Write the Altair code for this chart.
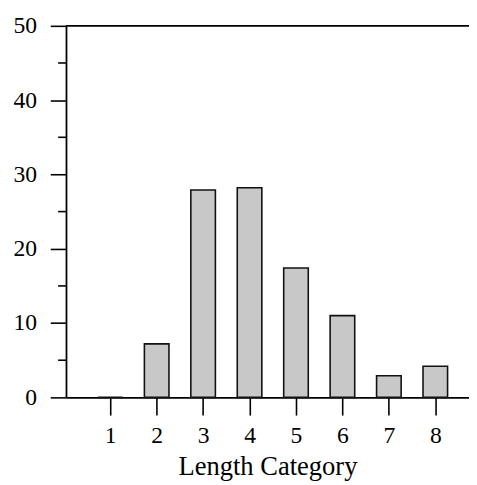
import altair as alt
import pandas as pd

categories = [1, 2, 3, 4, 5, 6, 7, 8]
counts = [0, 7.2, 27.9, 28.2, 17.4, 11.0, 2.9, 4.2]
y_major = [0, 10, 20, 30, 40, 50]
y_minor = [5, 15, 25, 35, 45]

W, H = 410, 378
FONT = "Liberation Serif"

df = pd.DataFrame({"cat": categories, "n": counts})
minor_df = pd.DataFrame({"n": y_minor})
top_df = pd.DataFrame({"n": [50]})

xscale = alt.Scale(domain=[0.153, 8.62], nice=False, zero=False)
yscale = alt.Scale(domain=[0, 50], nice=False)

yaxis = alt.Axis(
    values=y_major, title=None, grid=False,
    tickSize=16, tickWidth=1.6, tickColor="black",
    domainColor="black", domainWidth=1.8,
    labelFont=FONT, labelFontSize=24, labelColor="black", labelPadding=14,
)

bars = alt.Chart(df).mark_bar(
    size=25, fill="#c8c8c8", stroke="#111111", strokeWidth=1.6
).encode(
    x=alt.X("cat:Q", scale=xscale, axis=alt.Axis(
        values=categories, title="Length Category", grid=False,
        tickSize=18, tickWidth=1.6, tickColor="black",
        domainColor="black", domainWidth=1.8,
        labelFont=FONT, labelFontSize=24, labelColor="black", labelPadding=9,
        titleFont=FONT, titleFontSize=27, titleFontWeight="normal", titleColor="black",
        titleBaseline="alphabetic", titleY=78,
    )),
    y=alt.Y("n:Q", scale=yscale, axis=yaxis),
)

minor = alt.Chart(minor_df).mark_rule(color="black", strokeWidth=1.6).encode(
    y=alt.Y("n:Q", scale=yscale, axis=yaxis),
    x=alt.value(-8),
    x2=alt.value(0),
)

top = alt.Chart(top_df).mark_rule(color="black", strokeWidth=1.8).encode(
    y=alt.Y("n:Q", scale=yscale, axis=yaxis),
    x=alt.value(0),
    x2=alt.value(W),
)

chart = alt.layer(bars, minor, top).properties(
    width=W, height=H,
    autosize=alt.AutoSizeParams(type="none"),
    padding={"left": 59, "top": 14, "right": 0, "bottom": 85},
    background="white",
).configure_view(stroke=None)

chart.save("out.html", embed_options={"renderer": "svg", "actions": False})
